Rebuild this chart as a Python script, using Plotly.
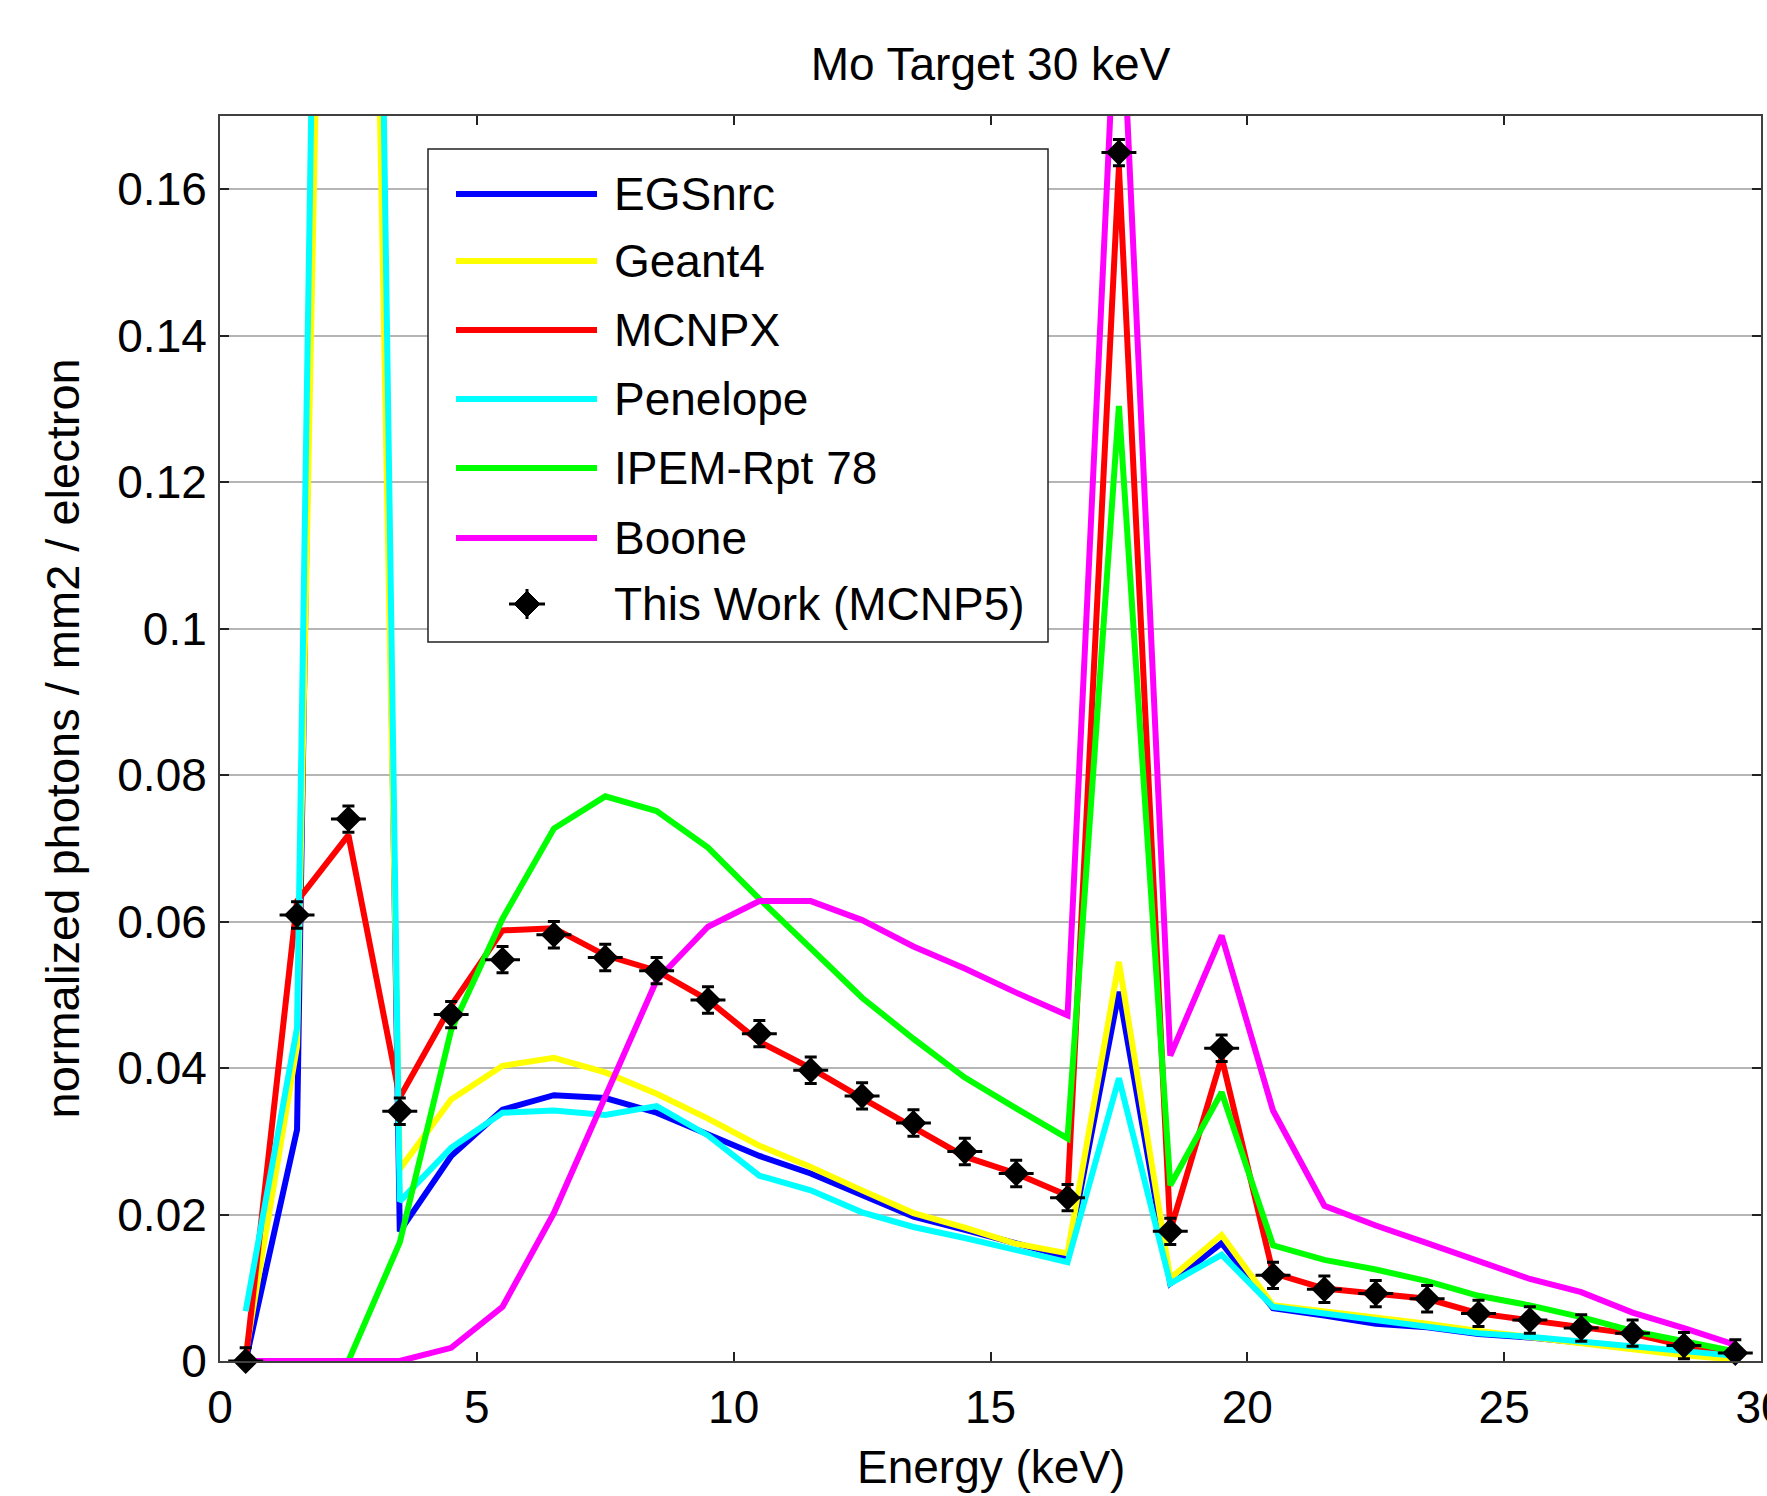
import plotly.graph_objects as go

# ---------------- data ----------------
energy = [0.5, 1.5, 2.5, 3.5, 4.5, 5.5, 6.5, 7.5, 8.5, 9.5,
          10.5, 11.5, 12.5, 13.5, 14.5, 15.5, 16.5, 17.5, 18.5, 19.5,
          20.5, 21.5, 22.5, 23.5, 24.5, 25.5, 26.5, 27.5, 28.5, 29.5]

egsnrc = [0.0, 0.0316, 0.47, 0.0177, 0.028, 0.0343, 0.0363, 0.0359, 0.0339, 0.031,
          0.028, 0.0256, 0.0226, 0.0197, 0.0179, 0.016, 0.0142, 0.0504, 0.0106, 0.0161,
          0.0072, 0.0062, 0.0051, 0.0046, 0.0037, 0.0032, 0.0025, 0.0019, 0.0012, 0.0004]

geant4 = [0.001, 0.043, 0.40, 0.0262, 0.0357, 0.0403, 0.0414, 0.0394, 0.0365, 0.0331,
          0.0294, 0.0265, 0.0233, 0.0202, 0.0182, 0.016, 0.0147, 0.0545, 0.0113, 0.0172,
          0.0076, 0.0068, 0.006, 0.0051, 0.0041, 0.0032, 0.0024, 0.0016, 0.0008, 0.0002]

mcnpx = [0.0, 0.0628, 0.0718, 0.036, 0.0485, 0.0588, 0.0591, 0.0554, 0.0533, 0.0493,
         0.0436, 0.040, 0.0359, 0.032, 0.0279, 0.0256, 0.0226, 0.163, 0.0178, 0.0414,
         0.012, 0.0099, 0.0092, 0.0085, 0.0065, 0.0056, 0.0045, 0.0037, 0.0021, 0.0011]

penelope = [0.0068, 0.0455, 0.50, 0.0218, 0.0291, 0.0339, 0.0342, 0.0336, 0.0348, 0.0308,
            0.0253, 0.0233, 0.0203, 0.0183, 0.0168, 0.0151, 0.0135, 0.0386, 0.0106, 0.0145,
            0.0074, 0.0065, 0.0056, 0.0047, 0.0038, 0.0033, 0.0027, 0.002, 0.0013, 0.0007]

ipem = [None, None, 0.0, 0.0162, 0.0452, 0.0604, 0.0727, 0.0771, 0.0751, 0.0701,
        0.0631, 0.0564, 0.0496, 0.044, 0.0387, 0.0345, 0.0304, 0.1304, 0.024, 0.0367,
        0.0158, 0.0138, 0.0125, 0.0109, 0.0089, 0.0076, 0.006, 0.0041, 0.0027, 0.0013]

boone = [0.0, 0.0, 0.0, 0.0, 0.0018, 0.0074, 0.0202, 0.0359, 0.052, 0.0593,
         0.0628, 0.0628, 0.0602, 0.0566, 0.0536, 0.0503, 0.0472, 0.195, 0.0417, 0.0581,
         0.0342, 0.0212, 0.0185, 0.0161, 0.0136, 0.0112, 0.0094, 0.0066, 0.0045, 0.0022]

this_work = [0.0, 0.0609, 0.074, 0.0341, 0.0473, 0.0548, 0.0582, 0.0551, 0.0533, 0.0493,
             0.0447, 0.0397, 0.0362, 0.0325, 0.0286, 0.0256, 0.0223, 0.165, 0.0177, 0.0427,
             0.0117, 0.0098, 0.0092, 0.0085, 0.0065, 0.0056, 0.0045, 0.0038, 0.0021, 0.0011]

series_names = ["EGSnrc", "Geant4", "MCNPX", "Penelope", "IPEM-Rpt 78", "Boone"]
series_values = [egsnrc, geant4, mcnpx, penelope, ipem, boone]
series_colors = ["#0000FF", "#FFFF00", "#FF0000", "#00FFFF", "#00FF00", "#FF00FF"]
marker_name = "This Work (MCNP5)"

y_tickvals = [0, 0.02, 0.04, 0.06, 0.08, 0.1, 0.12, 0.14, 0.16]
y_ticktext = ["0", "0.02", "0.04", "0.06", "0.08", "0.1", "0.12", "0.14", "0.16"]
x_tickvals = [0, 5, 10, 15, 20, 25, 30]
x_ticktext = ["0", "5", "10", "15", "20", "25", "30"]

title_text = "Mo Target 30 keV"
x_title = "Energy (keV)"
y_title = "normalized photons / mm2 / electron"

# ---------------- figure ----------------
FONT = "Liberation Sans, Arial, sans-serif"
FS = 46
W, H = 1767, 1496
L, R, T, B = 220, 6, 116, 135
PW, PH = W - L - R, H - T - B

fig = go.Figure()
for name, vals, col in zip(series_names, series_values, series_colors):
    fig.add_trace(go.Scatter(x=energy, y=vals, mode="lines", name=name,
                             line=dict(color=col, width=6), showlegend=False))

fig.add_trace(go.Scatter(
    x=energy, y=this_work, mode="markers", name=marker_name, showlegend=False,
    marker=dict(symbol="diamond", size=20, color="black"),
    error_x=dict(type="constant", value=0.34, thickness=3, width=0, color="black"),
    error_y=dict(type="constant", value=0.0018, thickness=3, width=6, color="black"),
    cliponaxis=False))


def px_x(X):
    return (X - L) / PW


def px_y(Y):
    return (H - B - Y) / PH


# ---- custom legend (MATLAB style) ----
shapes = []
annotations = []
shapes.append(dict(type="rect", xref="paper", yref="paper",
                   x0=px_x(428), x1=px_x(1048), y0=px_y(642), y1=px_y(149),
                   line=dict(color="#222222", width=1.5), fillcolor="white", layer="above"))
entry_y = [194, 261, 330, 399, 468, 538, 604]
for i, (name, col) in enumerate(zip(series_names, series_colors)):
    yy = px_y(entry_y[i])
    shapes.append(dict(type="line", xref="paper", yref="paper",
                       x0=px_x(456), x1=px_x(597), y0=yy, y1=yy,
                       line=dict(color=col, width=6), layer="above"))
    annotations.append(dict(text=name, xref="paper", yref="paper", x=px_x(612), y=yy,
                            xanchor="left", yanchor="middle", showarrow=False,
                            font=dict(family=FONT, size=FS, color="black")))
# marker glyph for "This Work"
my = entry_y[6]
mx = 527
d = 13
shapes.append(dict(type="path", xref="paper", yref="paper", layer="above",
                   path="M {} {} L {} {} L {} {} L {} {} Z".format(
                       px_x(mx - d), px_y(my), px_x(mx), px_y(my - d),
                       px_x(mx + d), px_y(my), px_x(mx), px_y(my + d)),
                   fillcolor="black", line=dict(color="black", width=1)))
shapes.append(dict(type="line", xref="paper", yref="paper", layer="above",
                   x0=px_x(mx - 18), x1=px_x(mx + 18), y0=px_y(my), y1=px_y(my),
                   line=dict(color="black", width=3)))
shapes.append(dict(type="line", xref="paper", yref="paper", layer="above",
                   x0=px_x(mx), x1=px_x(mx), y0=px_y(my - 15), y1=px_y(my + 15),
                   line=dict(color="black", width=3)))
annotations.append(dict(text=marker_name, xref="paper", yref="paper", x=px_x(612),
                        y=px_y(my), xanchor="left", yanchor="middle", showarrow=False,
                        font=dict(family=FONT, size=FS, color="black")))

# axis titles
annotations.append(dict(text=x_title, xref="paper", yref="paper", x=0.5, y=px_y(1467),
                        xanchor="center", yanchor="middle", showarrow=False,
                        font=dict(family=FONT, size=FS, color="black")))
annotations.append(dict(text=y_title, xref="paper", yref="paper", x=px_x(62), y=0.5,
                        xanchor="center", yanchor="middle", showarrow=False, textangle=-90,
                        font=dict(family=FONT, size=47, color="black")))

fig.update_layout(
    width=W, height=H,
    margin=dict(l=L, r=R, t=T, b=B, pad=0, autoexpand=False),
    paper_bgcolor="white", plot_bgcolor="white",
    font=dict(family=FONT, size=FS, color="black"),
    title=dict(text=title_text, x=0.5, xref="paper", xanchor="center",
               y=1 - 64 / H, yanchor="middle", yref="container",
               font=dict(family=FONT, size=FS, color="black")),
    shapes=shapes, annotations=annotations, showlegend=False,
)
fig.update_xaxes(range=[0, 30], tickvals=x_tickvals, ticktext=x_ticktext,
                 automargin=False,
                 showgrid=False, zeroline=False, showline=True, linecolor="#404040",
                 linewidth=2, mirror="ticks", ticks="inside", ticklen=9, tickwidth=2,
                 tickcolor="#222222", ticklabelstandoff=5, ticklabeloverflow="allow",
                 tickfont=dict(family=FONT, size=FS, color="black"))
fig.update_yaxes(range=[0, 0.17], tickvals=y_tickvals, ticktext=y_ticktext,
                 automargin=False,
                 showgrid=True, gridcolor="#b5b5b5", gridwidth=1.5, zeroline=False,
                 showline=True, linecolor="#404040", linewidth=2, mirror="ticks",
                 ticks="inside", ticklen=9, tickwidth=2, tickcolor="#222222",
                 ticklabelstandoff=2,
                 tickfont=dict(family=FONT, size=FS, color="black"))

fig.write_html("out.html",
               config={"displayModeBar": False},
               post_script="document.body.style.margin='0px';"
                           "document.body.style.overflow='hidden';")
